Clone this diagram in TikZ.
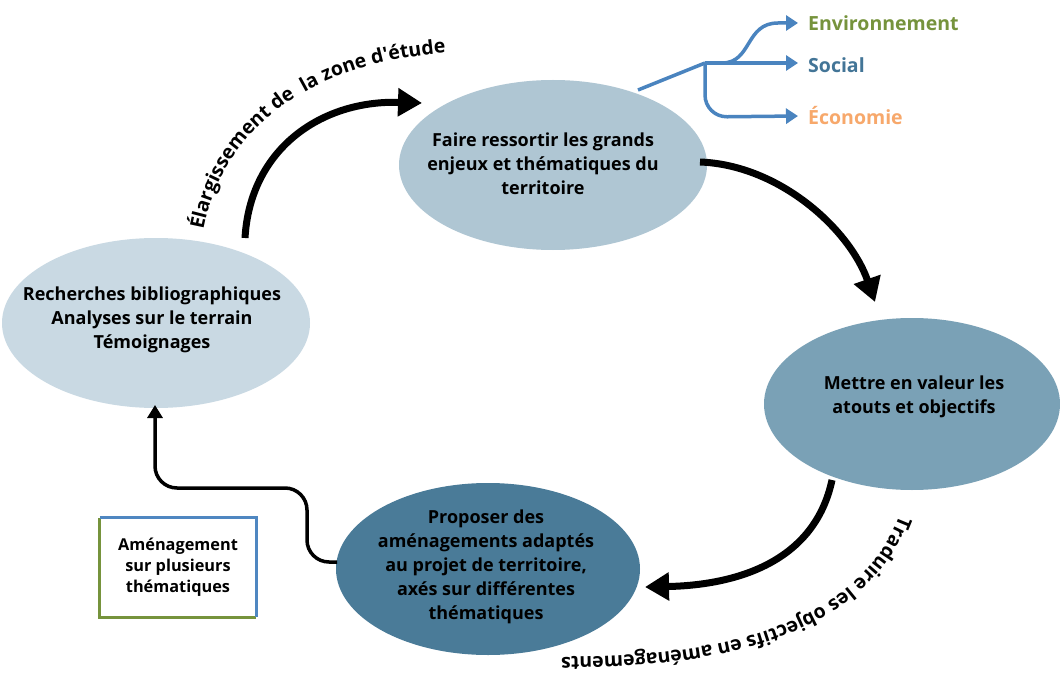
\documentclass[tikz,border=0pt]{standalone}
\usepackage{fontspec}
\setmainfont{Open Sans}
\newfontfamily\plainfont{Open Sans}
\usetikzlibrary{shapes.geometric,arrows.meta,decorations.text,calc}
\definecolor{cTop}{HTML}{AFC6D3}
\definecolor{cLeft}{HTML}{C9D9E3}
\definecolor{cRight}{HTML}{7AA1B6}
\definecolor{cBot}{HTML}{4A7B98}
\definecolor{cBlue}{HTML}{4A84BF}
\definecolor{cGreen}{HTML}{76933C}
\definecolor{cSocial}{HTML}{437597}
\definecolor{cOrange}{HTML}{F7A86B}
\definecolor{cBoxBlue}{HTML}{4F87C1}
\begin{document}
\begin{tikzpicture}[x=1pt,y=-1pt,
  ell/.style={ellipse,draw=none,inner sep=0pt,minimum width=308pt,minimum height=170pt},
  txt/.style={align=center,font=\bfseries\fontsize{18}{24}\selectfont,inner sep=0pt},
  bigarrow/.style={line width=7pt,-{Triangle[length=24pt,width=27pt]}},
  smallarrow/.style={line width=3.5pt,rounded corners=22pt,-{Triangle[length=13pt,width=15pt]}},
  bluearrow/.style={line width=3.5pt,draw=cBlue,-{Triangle[length=12pt,width=15pt]}},
  lab/.style={anchor=west,font=\bfseries\fontsize{19.5}{22}\selectfont,inner sep=0pt},
  curvetext/.style={decorate,decoration={text along path,text align=center,
    text={|\plainfont\bfseries\fontsize{19.5}{19.5}\selectfont|#1}}}
]
\useasboundingbox (0,0) rectangle (1060,679);
\fill[white] (0,0) rectangle (1060,679);

% ellipses
\node[ell,fill=cTop] (eT) at (553,165) {};
\node[ell,fill=cLeft] (eL) at (156,323) {};
\node[ell,fill=cRight,minimum width=296pt,minimum height=172pt] (eR) at (912,404) {};
\node[ell,fill=cBot,minimum width=304pt,minimum height=172pt] (eB) at (488,569) {};

\node[txt] (tT) at (543,164) {Faire ressortir les grands\\enjeux et thématiques du\\territoire};
\node[txt] (tL) at (152,320) {Recherches bibliographiques\\Analyses sur le terrain\\Témoignages};
\node[txt] (tR) at (914,397) {Mettre en valeur les\\atouts et objectifs};
\node[txt] (tB) at (486,567) {Proposer des\\aménagements adaptés\\au projet de territoire,\\axés sur différentes\\thématiques};

% box
\node[inner sep=0pt,minimum width=156pt,minimum height=99pt] (box) at (178,567.5) {};
\node[txt,font=\bfseries\fontsize{16.3}{21}\selectfont] (tbox) at (box) {Aménagement\\sur plusieurs\\thématiques};
\draw[cGreen,line width=3pt] (box.north west) -- (box.south west) -- (box.south east);
\draw[cBoxBlue,line width=3pt] (box.north west) -- (box.north east) -- (box.south east);

% big arrows
\draw[bigarrow] ($(eL)+(89,-85)$) .. controls ($(eL)+(94,-173)$) and ($(eT)+(-233,-65)$) .. ($(eT)+(-131,-62)$);
\draw[bigarrow] ($(eT)+(147,-3)$) .. controls ($(eT)+(227,0)$) and ($(eR)+(-62,-174)$) .. ($(eR)+(-37,-102)$);
\draw[bigarrow] ($(eR)+(-80,76)$) .. controls ($(eR)+(-97,156)$) and ($(eB)+(252,16)$) .. ($(eB)+(157,18)$);
\draw[smallarrow] ($(eB)+(-151,-7)$) -- (307,562) -- (307,488) -- (155,488) -- ($(eL)+(-1,82)$);

% blue branches
\coordinate (fork) at (705,63);
\draw[cBlue,line width=3.5pt] ($(eT)+(85,-75)$) -- (fork);
\node[lab,text=cGreen] (lEnv) at (808,23) {Environnement};
\node[lab,text=cSocial] (lSoc) at (808,65) {Social};
\node[lab,text=cOrange] (lEco) at (808,116) {Économie};
\draw[bluearrow] (fork) -- ([xshift=-10pt]lSoc.west |- fork);
\draw[bluearrow] (fork) -- (722,63) .. controls (752,63) and (745,23) .. (778,23) -- ([xshift=-10pt]lEnv.west);
\draw[bluearrow,rounded corners=22pt] (fork) -- (705,117) -- ([xshift=-10pt]lEco.west);

% curved labels
\path[curvetext={Élargissement de\ \ la zone d'étude}] (201,246) .. controls (214,130) and (312,58) .. (462,52);
\path[curvetext={Traduire les objectifs en aménagements}] (900,514) .. controls (866,606) and (762,658) .. (560,657);
\end{tikzpicture}
\end{document}
